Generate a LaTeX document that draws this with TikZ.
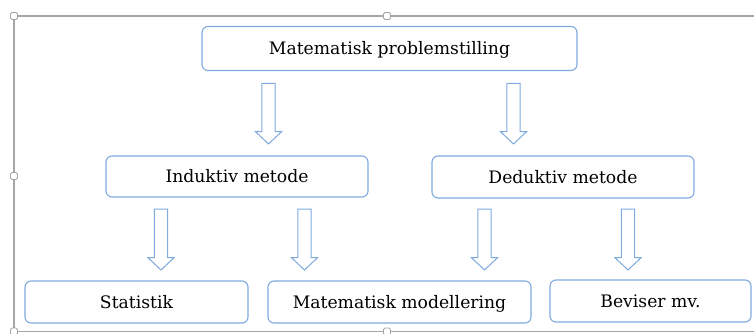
\documentclass[tikz,border=0pt]{standalone}
\usepackage{fontspec}
\setmainfont{DejaVu Serif}
\definecolor{boxblue}{HTML}{7EAADF}
\definecolor{framegray}{HTML}{A6A6A6}
\tikzset{
  stepbox/.style={draw=boxblue, line width=1.1pt, fill=white, rounded corners=6pt,
    inner sep=0pt, font=\fontsize{17.2}{20}\selectfont, text=black,
    text height=12.5pt, text depth=0pt},
  blockarrow/.style={draw=boxblue, line width=1pt, fill=white, line join=miter},
  framehandle/.style={draw=framegray, line width=0.9pt, fill=white, rounded corners=1.5pt,
    minimum size=7pt, inner sep=0pt},
  frameline/.style={draw=framegray, line width=1.4pt}
}
% #1 = centre x, #2 = top y, #3 = tip y
\newcommand{\barrow}[3]{%
  \draw[blockarrow] (#1-6.6,#2) -- (#1+6.6,#2) -- (#1+6.6,#3-12.3) -- (#1+13,#3-12.3)
    -- (#1,#3) -- (#1-13,#3-12.3) -- (#1-6.6,#3-12.3) -- cycle;}
\begin{document}
\begin{tikzpicture}[x=1pt,y=-1pt]
\useasboundingbox (0,0) rectangle (754,333);
% selection frame
\coordinate (fTL) at (14,16);
\coordinate (fTR) at (760,16);
\coordinate (fBL) at (14,331.5);
\coordinate (fBR) at (760,331.5);
\draw[frameline] (fTR) -- (fTL) -- (fBL) -- (fBR);
\node[framehandle] (h1) at (14,16) {};
\node[framehandle] (h2) at (387,16) {};
\node[framehandle] (h3) at (14,176) {};
\node[framehandle] (h4) at (14,331.5) {};
\node[framehandle] (h5) at (387,331.5) {};
% boxes
\node[stepbox, minimum width=375pt, minimum height=44pt] (top) at (389.5,48.5) {Matematisk problemstilling};
\node[stepbox, minimum width=262pt, minimum height=41pt] (ind) at (237,176.5) {Induktiv metode};
\node[stepbox, minimum width=262pt, minimum height=42pt] (ded) at (563,177) {Deduktiv metode};
\node[stepbox, minimum width=223pt, minimum height=42pt] (stat) at (136.5,302) {Statistik};
\node[stepbox, minimum width=263pt, minimum height=42pt] (mod) at (399.5,302) {Matematisk modellering};
\node[stepbox, minimum width=201pt, minimum height=42pt] (bev) at (650.5,301) {Beviser mv.};
% block arrows
\barrow{268.5}{83.3}{144}
\barrow{513.5}{83.3}{144}
\barrow{161}{209}{270}
\barrow{304.5}{209}{270}
\barrow{484.5}{209}{270}
\barrow{628}{209}{270}
\end{tikzpicture}
\end{document}
